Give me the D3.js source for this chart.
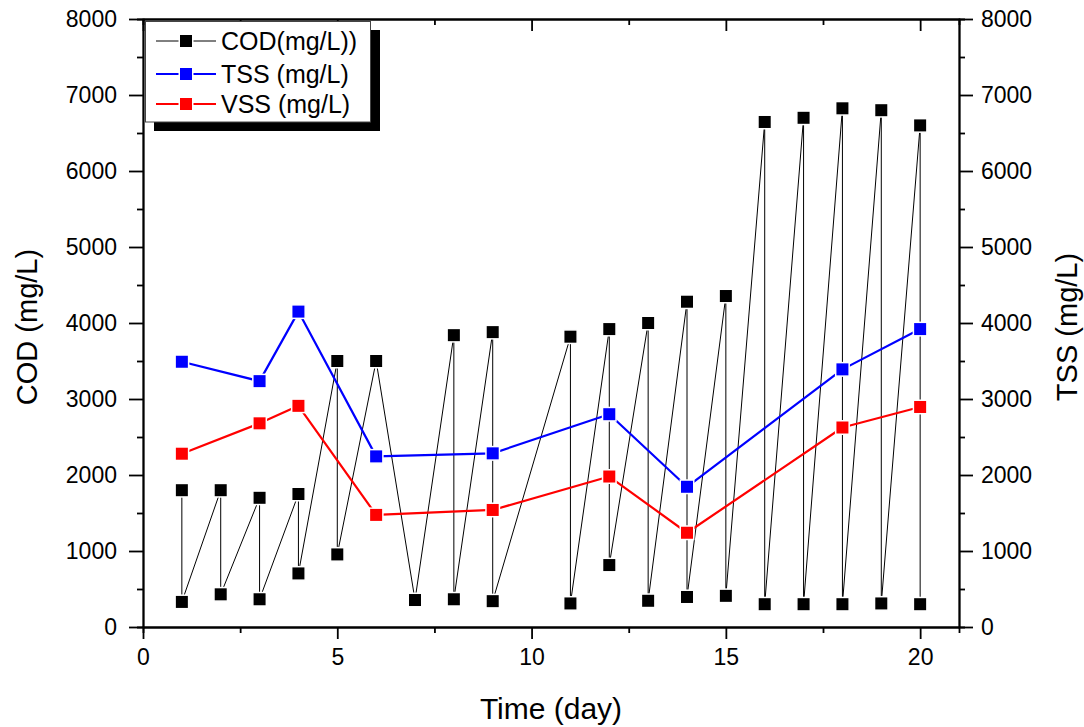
<!DOCTYPE html>
<html><head><meta charset="utf-8">
<script src="https://cdn.jsdelivr.net/npm/d3@7"></script>
<style>
html,body{margin:0;padding:0;background:#fff;}
svg{display:block;font-family:"Liberation Sans",Arial,sans-serif;}
</style></head>
<body>
<svg id="chart" width="1084" height="727"></svg>
<script>
// ---- data ----
const codDays   = [1,1,2,2,3,3,4,4,5,5,6,7,8,8,9,9,11,11,12,12,13,13,14,14,15,15,16,16,17,17,18,18,19,19,20,20];
const codValues = [1800,330,1800,430,1700,365,1750,705,3500,955,3500,355,3840,365,3880,340,3820,310,3920,815,4000,345,4280,395,4355,410,6645,300,6700,300,6825,300,6800,310,6600,300];
const ssDays    = [1,3,4,6,9,12,14,18,20];
const tssValues = [3490,3235,4150,2245,2285,2800,1845,3390,3920];
const vssValues = [2280,2680,2910,1475,1540,1980,1240,2625,2895];
const yTicks    = [0,1000,2000,3000,4000,5000,6000,7000,8000];
const yMinor    = [500,1500,2500,3500,4500,5500,6500,7500];
const xTicks    = [0,5,10,15,20];
const xMinor    = [2.5,7.5,12.5,17.5];
const legendLabels = ["COD(mg/L))","TSS (mg/L)","VSS (mg/L)"];
const seriesColors = ["#000000","#0000ff","#ff0000"];

const svg = d3.select("#chart");
const L = 143, R = 959, T = 19, B = 627;
const x = d3.scaleLinear().domain([0,21]).range([L,R]);
const y = d3.scaleLinear().domain([0,8000]).range([B,T]);
const fmt = d3.format("d");

function styleAxis(g){
  g.select(".domain").attr("stroke","#000").attr("stroke-width",1.8);
  g.selectAll(".tick line").attr("stroke","#000").attr("stroke-width",1.8);
  g.selectAll(".tick text").attr("font-size",23).attr("fill","#000")
    .attr("font-family","'Liberation Sans',Arial,sans-serif");
}
// minor ticks
svg.append("g").attr("transform",`translate(${L},0)`)
  .call(d3.axisLeft(y).tickValues(yMinor).tickSize(6).tickFormat("")).call(styleAxis);
svg.append("g").attr("transform",`translate(${R},0)`)
  .call(d3.axisRight(y).tickValues(yMinor).tickSize(6).tickFormat("")).call(styleAxis);
svg.append("g").attr("transform",`translate(0,${B})`)
  .call(d3.axisBottom(x).tickValues(xMinor).tickSize(6).tickFormat("")).call(styleAxis);
svg.append("g").attr("transform",`translate(0,${T})`)
  .call(d3.axisTop(x).tickValues(xMinor).tickSize(-6).tickFormat("")).call(styleAxis);
// major
svg.append("g").attr("transform",`translate(${L},0)`)
  .call(d3.axisLeft(y).tickValues(yTicks).tickFormat(fmt).tickSize(14).tickPadding(12).tickSizeOuter(0)).call(styleAxis);
svg.append("g").attr("transform",`translate(${R},0)`)
  .call(d3.axisRight(y).tickValues(yTicks).tickFormat(fmt).tickSize(14).tickPadding(8).tickSizeOuter(0)).call(styleAxis);
svg.append("g").attr("transform",`translate(0,${B})`)
  .call(d3.axisBottom(x).tickValues(xTicks).tickFormat(fmt).tickSize(12).tickPadding(10).tickSizeOuter(0)).call(styleAxis);
svg.append("g").attr("transform",`translate(0,${T})`)
  .call(d3.axisTop(x).tickValues(xTicks).tickSize(-12).tickFormat("").tickSizeOuter(0)).call(styleAxis);

// axis titles
svg.append("text").attr("x",551).attr("y",719).attr("text-anchor","middle")
  .attr("font-size",30).text("Time (day)");
svg.append("text").attr("transform","translate(37,327) rotate(-90)").attr("text-anchor","middle")
  .attr("font-size",29).text("COD (mg/L)");
svg.append("text").attr("transform","translate(1077,327) rotate(-90)").attr("text-anchor","middle")
  .attr("font-size",29).text("TSS (mg/L)");

// series
const line = d3.line().x(d=>x(d[0])).y(d=>y(d[1]));
function drawSeries(days, vals, color, width){
  const pts = days.map((d,i)=>[d, vals[i]]);
  const g = svg.append("g");
  g.append("path").datum(pts).attr("d",line).attr("fill","none")
    .attr("stroke",color).attr("stroke-width",width).attr("stroke-linejoin","round");
  g.selectAll("rect").data(pts).join("rect")
    .attr("x",d=>x(d[0])-6.75).attr("y",d=>y(d[1])-6.75)
    .attr("width",13.5).attr("height",13.5)
    .attr("fill",color).attr("stroke","#fff").attr("stroke-width",1.5);
}
drawSeries(codDays, codValues, seriesColors[0], 1);
drawSeries(ssDays, tssValues, seriesColors[1], 2.2);
drawSeries(ssDays, vssValues, seriesColors[2], 2.2);

// legend
const lg = svg.append("g");
lg.append("rect").attr("x",154).attr("y",30).attr("width",226).attr("height",101).attr("fill","#000");
lg.append("rect").attr("x",145.5).attr("y",21.5).attr("width",225).attr("height",100.5)
  .attr("fill","#fff").attr("stroke","#444").attr("stroke-width",1);
const rowsY = [41,74,104];
legendLabels.forEach((lab,i)=>{
  const yy = rowsY[i];
  lg.append("line").attr("x1",156).attr("x2",216).attr("y1",yy).attr("y2",yy)
    .attr("stroke",seriesColors[i]).attr("stroke-width", i===0?1:2.2);
  lg.append("rect").attr("x",186-6.75).attr("y",yy-6.75).attr("width",13.5).attr("height",13.5)
    .attr("fill",seriesColors[i]).attr("stroke","#fff").attr("stroke-width",1.5);
  lg.append("text").attr("x",221).attr("y",yy+9).attr("font-size",25).text(lab);
});
</script>
</body></html>
